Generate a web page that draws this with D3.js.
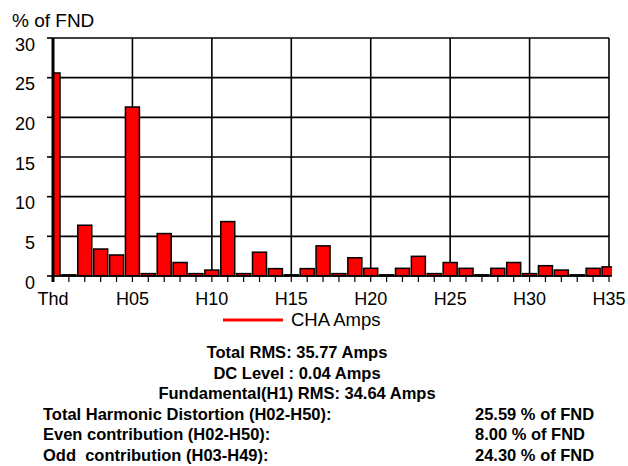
<!DOCTYPE html>
<html>
<head>
<meta charset="utf-8">
<script src="https://cdn.jsdelivr.net/npm/d3@7/dist/d3.min.js"></script>
<style>
  html, body { margin: 0; padding: 0; background: #fff; }
  svg { display: block; font-family: "Liberation Sans", Arial, sans-serif; }
</style>
</head>
<body>
<script>
const categories = ["Thd","DC","H02","H03","H04","H05","H06","H07","H08","H09","H10",
  "H11","H12","H13","H14","H15","H16","H17","H18","H19","H20",
  "H21","H22","H23","H24","H25","H26","H27","H28","H29","H30",
  "H31","H32","H33","H34","H35"];
const values = [25.59, 0.15, 6.4, 3.4, 2.65, 21.3, 0.3, 5.35, 1.7, 0.3, 0.75,
  6.86, 0.3, 3.0, 0.93, 0.15, 0.93, 3.8, 0.3, 2.3, 0.97,
  0.15, 0.97, 2.48, 0.3, 1.7, 0.97, 0.15, 0.97, 1.7, 0.3,
  1.3, 0.75, 0.15, 0.97, 1.15];
const xTickLabels = ["Thd","H05","H10","H15","H20","H25","H30","H35"];
const yTicks = [0, 5, 10, 15, 20, 25, 30];
const yTitle = "% of FND";
const seriesName = "CHA Amps";
const summaryCentered = ["Total RMS: 35.77 Amps", "DC Level : 0.04 Amps", "Fundamental(H1) RMS: 34.64 Amps"];
const summaryLabels = ["Total Harmonic Distortion (H02-H50):", "Even contribution (H02-H50):", "Odd\u00a0 contribution (H03-H49):"];
const summaryValues = ["25.59 % of FND", "8.00 % of FND", "24.30 % of FND"];

const W = 628, H = 466;
const pL = 53, pR = 609, pT = 38, pB = 276;

const svg = d3.select("body").append("svg").attr("width", W).attr("height", H);

const x = d3.scalePoint().domain(categories).range([pL, pR]);
const y = d3.scaleLinear().domain([0, 30]).range([pB, pT]);
const barW = 14;

// grid horizontal
svg.append("g").selectAll("line").data(yTicks.filter(d => d > 0)).join("line")
  .attr("x1", pL).attr("x2", pR).attr("y1", d => y(d)).attr("y2", d => y(d))
  .attr("stroke", "#000").attr("stroke-width", 1.6);
// grid vertical
svg.append("g").selectAll("line").data(xTickLabels.filter(d => d !== "Thd")).join("line")
  .attr("x1", d => x(d)).attr("x2", d => x(d)).attr("y1", pT).attr("y2", pB)
  .attr("stroke", "#000").attr("stroke-width", 1.6);

// clip
svg.append("clipPath").attr("id", "plotclip").append("rect")
  .attr("x", pL).attr("y", 0).attr("width", pR + 3 - pL).attr("height", pB + 2);

// bars
svg.append("g").attr("clip-path", "url(#plotclip)").selectAll("rect")
  .data(categories.map((c, i) => ({c, v: values[i]}))).join("rect")
  .attr("x", d => x(d.c) - barW / 2)
  .attr("y", d => y(d.v))
  .attr("width", barW)
  .attr("height", d => y(0) - y(d.v))
  .attr("fill", "#ff0000")
  .attr("stroke", "#000").attr("stroke-width", 1.5);

// baseline
svg.append("line").attr("x1", pL).attr("x2", pR).attr("y1", y(0)).attr("y2", y(0))
  .attr("stroke", "#000").attr("stroke-width", 1.6);

// x ticks
svg.append("g").selectAll("line").data(categories).join("line")
  .attr("x1", d => x(d)).attr("x2", d => x(d)).attr("y1", pB).attr("y2", pB + 6)
  .attr("stroke", "#000").attr("stroke-width", 1.2);
// y ticks
svg.append("g").selectAll("line").data(yTicks).join("line")
  .attr("x1", pL - 6).attr("x2", pL).attr("y1", d => y(d)).attr("y2", d => y(d))
  .attr("stroke", "#000").attr("stroke-width", 1.6);

// left axis
svg.append("line").attr("x1", pL).attr("x2", pL).attr("y1", pT).attr("y2", pB + 6)
  .attr("stroke", "#000").attr("stroke-width", 3);

// x labels
svg.append("g").selectAll("text").data(xTickLabels).join("text")
  .attr("x", d => x(d)).attr("y", 305).attr("text-anchor", "middle")
  .attr("font-size", 18).text(d => d);
// y labels
svg.append("g").selectAll("text").data(yTicks).join("text")
  .attr("x", 35).attr("y", d => y(d) + 12.5).attr("text-anchor", "end")
  .attr("font-size", 18).text(d => d);

// y title
svg.append("text").attr("x", 12).attr("y", 27).attr("font-size", 19).text(yTitle);

// legend
svg.append("line").attr("x1", 223).attr("x2", 283).attr("y1", 320).attr("y2", 320)
  .attr("stroke", "#ff0000").attr("stroke-width", 3);
svg.append("text").attr("x", 291).attr("y", 325.5).attr("font-size", 18.5).text(seriesName);

// summary
const rowY = [358, 378.5, 399, 419.5, 440, 460.5];
svg.append("g").selectAll("text").data(summaryCentered).join("text")
  .attr("x", 297).attr("y", (d, i) => rowY[i]).attr("text-anchor", "middle")
  .attr("font-size", 16.5).attr("font-weight", "bold").text(d => d);
svg.append("g").selectAll("text").data(summaryLabels).join("text")
  .attr("x", 43).attr("y", (d, i) => rowY[i + 3])
  .attr("font-size", 16.5).attr("font-weight", "bold").text(d => d);
svg.append("g").selectAll("text").data(summaryValues).join("text")
  .attr("x", 475).attr("y", (d, i) => rowY[i + 3])
  .attr("font-size", 16.5).attr("font-weight", "bold").text(d => d);
</script>
</body>
</html>
